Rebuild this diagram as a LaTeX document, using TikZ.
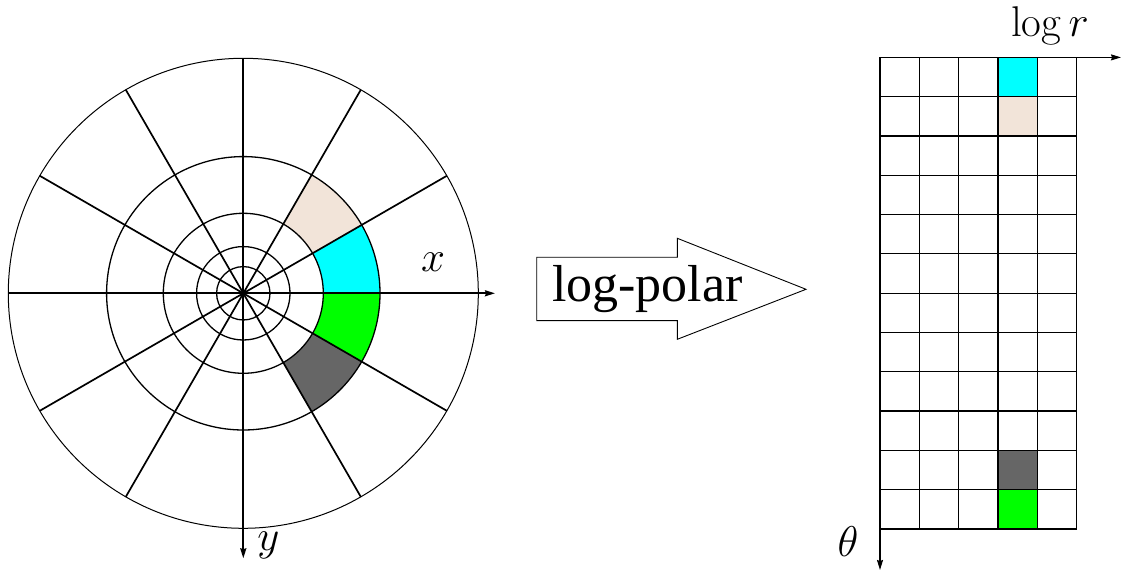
\documentclass[tikz,border=0pt]{standalone}
\usepackage{fix-cm}
\usepackage{fontspec}
\newfontfamily\timesfont{Liberation Serif}
\usetikzlibrary{arrows.meta}
\definecolor{beige}{HTML}{F2E4D9}
\definecolor{darkgrey}{HTML}{666666}
\definecolor{cyanc}{HTML}{00FFFF}
\definecolor{greenc}{HTML}{00FF00}
\tikzset{
  ring/.style={line width=1.3pt},
  spoke/.style={line width=1.7pt},
  axisline/.style={line width=1.2pt,-{Stealth[length=10pt,width=6pt,inset=1pt]}},
  gridline/.style={line width=1.2pt},
  mathlabel/.style={font=\fontsize{43}{43}\selectfont,inner sep=0pt},
}
\begin{document}
\begin{tikzpicture}[x=1pt,y=1pt]
\useasboundingbox (0,0) rectangle (1122,573);
% ---------- polar picture ----------
\begin{scope}[shift={(243.3,279.7)}]
  \coordinate (c) at (0,0);
  % coloured sectors
  \fill[cyanc] (0:80) arc[start angle=0,end angle=30,radius=80] -- (30:136.7) arc[start angle=30,end angle=0,radius=136.7] -- cycle;
  \fill[beige] (30:80) arc[start angle=30,end angle=60,radius=80] -- (60:136.7) arc[start angle=60,end angle=30,radius=136.7] -- cycle;
  \fill[greenc] (0:80) arc[start angle=0,end angle=-30,radius=80] -- (-30:136.7) arc[start angle=-30,end angle=0,radius=136.7] -- cycle;
  \fill[darkgrey] (-30:80) arc[start angle=-30,end angle=-60,radius=80] -- (-60:136.7) arc[start angle=-60,end angle=-30,radius=136.7] -- cycle;
  % rings
  \foreach \r in {26.7,46.7,80,136.7}{\draw[ring] (c) circle[radius=\r];}
  \draw[line width=1pt] (c) circle[radius=235];
  % spokes
  \foreach \a in {30,60,120,150,210,240,300,330}{\draw[spoke] (c) -- (\a:235);}
  % axes
  \coordinate (xl) at (-235,0);
  \coordinate (xr) at (251.7,0);
  \coordinate (yt) at (0,235);
  \coordinate (yb) at (0,-265);
  \draw[spoke] (xl) -- (c);
  \draw[axisline,line width=1.7pt] (c) -- (xr);
  \draw[spoke] (yt) -- (c);
  \draw[axisline,line width=1.7pt] (c) -- (yb);
  \node[mathlabel] (xlab) at (189.7,31.5) {$x$};
  \node[mathlabel,anchor=north] (ylab) at (25,-238) {$y$};
\end{scope}
% ---------- block arrow ----------
\draw[line width=0.9pt] (536.7,315.7) -- (677.3,315.7) -- (677.3,334.7) -- (806,283.7)
  -- (677.3,233.7) -- (677.3,252.3) -- (536.7,252.3) -- cycle;
\node[font=\timesfont\fontsize{52}{52}\selectfont,inner sep=0pt,anchor=base] (lp) at (647.5,271.3) {log-polar};
% ---------- log-polar grid ----------
\begin{scope}[shift={(880,44)}]
  \def\cw{39.3}
  \fill[cyanc] (3*\cw,11*\cw) rectangle (4*\cw,12*\cw);
  \fill[beige] (3*\cw,10*\cw) rectangle (4*\cw,11*\cw);
  \fill[darkgrey] (3*\cw,1*\cw) rectangle (4*\cw,2*\cw);
  \fill[greenc] (3*\cw,0) rectangle (4*\cw,1*\cw);
  \foreach \i in {1,...,5}{\draw[gridline] (\i*\cw,0) -- (\i*\cw,12*\cw);}
  \foreach \j in {1,...,11}{\draw[gridline] (0,\j*\cw) -- (5*\cw,\j*\cw);}
  \draw[gridline] (0,0) -- (5*\cw,0);
  \coordinate (o) at (0,12*\cw);
  \coordinate (rend) at (241,12*\cw);
  \coordinate (bl) at (0,0);
  \coordinate (tend) at (0,-41);
  \draw[axisline] (bl) -- (o) -- (rend);
  \draw[axisline] (bl) -- (tend);
  \node[mathlabel,anchor=base] (lr) at (170,492.3) {$\log r$};
  \node[mathlabel] (th) at (-32,-13) {$\theta$};
\end{scope}
\end{tikzpicture}
\end{document}
